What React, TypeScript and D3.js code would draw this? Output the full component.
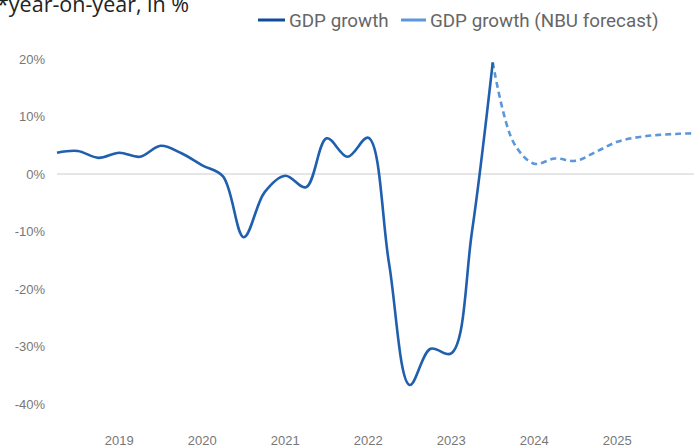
import React from "react";
import * as d3 from "d3";

const W = 694;
const H = 447;

// Quarterly, starting 2018 Q1
const actualQuarters = [
  "2018Q1","2018Q2","2018Q3","2018Q4","2019Q1","2019Q2","2019Q3","2019Q4",
  "2020Q1","2020Q2","2020Q3","2020Q4","2021Q1","2021Q2","2021Q3","2021Q4",
  "2022Q1","2022Q2","2022Q3","2022Q4","2023Q1","2023Q2",
];
const actualValues = [
  3.7, 4.0, 2.8, 3.7, 3.0, 4.9, 3.6, 1.5,
  -0.4, -11.0, -3.2, -0.3, -2.3, 6.2, 3.0, 6.3,
  -15.5, -36.7, -30.4, -31.2, -10.0, 19.4,
];
const forecastStartIndex = 21;
const forecastValues = [19.4, 5.5, 1.8, 2.7, 2.3, 3.9, 5.6, 6.4, 6.8, 7.0, 7.1];

const yearLabels = ["2019", "2020", "2021", "2022", "2023", "2024", "2025"];
const yearTickIndex = [3, 7, 11, 15, 19, 23, 27];
const yTicks = [20, 10, 0, -10, -20, -30, -40];

const titleText = "*year-on-year, in %";
const legendLabels = ["GDP growth", "GDP growth (NBU forecast)"];

export default function App() {
  const x = d3.scaleLinear().domain([0, 30]).range([57, 57 + 30 * 20.75]);
  const y = d3.scaleLinear().domain([-40, 20]).range([404, 59]);

  const line = d3
    .line<[number, number]>()
    .x((d) => x(d[0]))
    .y((d) => y(d[1]))
    .curve(d3.curveCatmullRom.alpha(0.5));

  const actualPts: [number, number][] = actualValues.map((v, i) => [i, v]);
  const forecastPts: [number, number][] = forecastValues.map((v, i) => [
    forecastStartIndex + i,
    v,
  ]);

  return (
    <svg
      width={W}
      height={H}
      style={{ position: "absolute", left: 0, top: 0, background: "#fff" }}
    >
      <defs>
        <clipPath id="plotclip">
          <rect x={0} y={0} width={W} height={H} />
        </clipPath>
      </defs>
      <rect x={0} y={0} width={W} height={H} fill="#fff" />
      <text
        x={-3}
        y={12}
        fontFamily="'Open Sans', sans-serif"
        fontSize={21.5}
        fill="#222"
      >
        {titleText}
      </text>

      {/* legend */}
      <line x1={258} x2={285} y1={20} y2={20} stroke="#0f4c9c" strokeWidth={3} />
      <text
        x={289}
        y={26.5}
        fontFamily="Roboto, sans-serif"
        fontSize={18.8}
        fill="#666"
      >
        {legendLabels[0]}
      </text>
      <line x1={401} x2={426} y1={20} y2={20} stroke="#5b97da" strokeWidth={3} />
      <text
        x={430}
        y={26.5}
        fontFamily="Roboto, sans-serif"
        fontSize={18.8}
        fill="#666"
      >
        {legendLabels[1]}
      </text>

      {/* y axis labels */}
      {yTicks.map((t) => (
        <text
          key={t}
          x={45}
          y={y(t) + 4.5}
          textAnchor="end"
          fontFamily="'Liberation Sans', Arial, sans-serif"
          fontSize={13}
          fill="#777"
        >
          {t}%
        </text>
      ))}

      {/* x axis labels */}
      {yearLabels.map((lab, i) => (
        <text
          key={lab}
          x={x(yearTickIndex[i])}
          y={444.5}
          textAnchor="middle"
          fontFamily="'Liberation Sans', Arial, sans-serif"
          fontSize={13}
          fill="#777"
        >
          {lab}
        </text>
      ))}

      {/* zero line */}
      <line x1={57} x2={W} y1={y(0)} y2={y(0)} stroke="#cccccc" strokeWidth={1} />

      <g clipPath="url(#plotclip)">
        <path
          d={line(forecastPts) || ""}
          fill="none"
          stroke="#5b97da"
          strokeWidth={2.6}
          strokeDasharray="6 4"
        />
        <path
          d={line(actualPts) || ""}
          fill="none"
          stroke="#1f5fae"
          strokeWidth={2.6}
          strokeLinejoin="round"
        />
      </g>
    </svg>
  );
}
